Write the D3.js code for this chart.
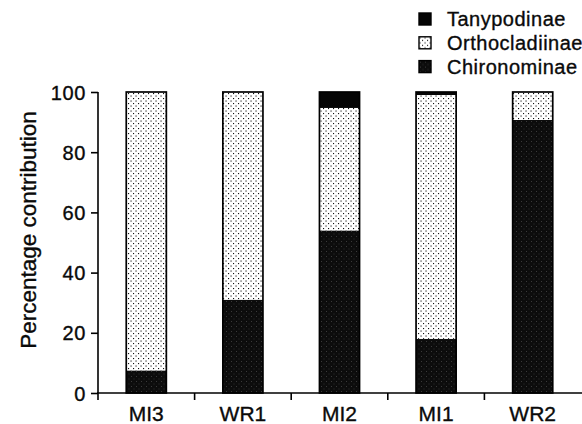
<!DOCTYPE html>
<html>
<head>
<meta charset="utf-8">
<script src="https://cdn.jsdelivr.net/npm/d3@7"></script>
<style>
  body { margin: 0; background: #fff; }
  svg text { font-family: "Liberation Sans", Arial, sans-serif; fill: #0a0a0a; stroke: #0a0a0a; stroke-width: 0.35px; }
</style>
</head>
<body>
<svg id="chart" width="582" height="424"></svg>
<script>
// data (percent of each site's chironomid catch)
const sites = ['MI3', 'WR1', 'MI2', 'MI1', 'WR2'];
const chironominae = [7.5, 31, 54, 18, 90.7];
const orthocladiinae = [92.5, 69, 40.7, 81, 9.3];
const tanypodinae = [0, 0, 5.3, 1, 0];
const subfamilies = ['Chironominae', 'Orthocladiinae', 'Tanypodinae'];
const legendOrder = ['Tanypodinae', 'Orthocladiinae', 'Chironominae'];
const yTicks = [0, 20, 40, 60, 80, 100];

const rows = sites.map((s, i) => ({
    site: s,
    Chironominae: chironominae[i],
    Orthocladiinae: orthocladiinae[i],
    Tanypodinae: tanypodinae[i]
}));

const svg = d3.select('#chart');

// patterns
const defs = svg.append('defs');
const dots = defs.append('pattern')
    .attr('id', 'dots')
    .attr('patternUnits', 'userSpaceOnUse')
    .attr('width', 5)
    .attr('height', 5);
dots.append('rect').attr('width', 5).attr('height', 5).attr('fill', '#fff');
dots.append('rect').attr('x', 0.5).attr('y', 0.5).attr('width', 1.1).attr('height', 1.1).attr('fill', '#111');
dots.append('rect').attr('x', 3).attr('y', 3).attr('width', 1.1).attr('height', 1.1).attr('fill', '#111');

const dark = defs.append('pattern')
    .attr('id', 'dark')
    .attr('patternUnits', 'userSpaceOnUse')
    .attr('width', 5)
    .attr('height', 5);
dark.append('rect').attr('width', 5).attr('height', 5).attr('fill', '#0c0c0c');
dark.append('rect').attr('x', 1).attr('y', 1).attr('width', 1).attr('height', 1).attr('fill', '#3a3a3a');
dark.append('rect').attr('x', 3.5).attr('y', 3.5).attr('width', 1).attr('height', 1).attr('fill', '#2e2e2e');

const fills = {
    Chironominae: 'url(#dark)',
    Orthocladiinae: 'url(#dots)',
    Tanypodinae: '#050505'
};

const x = d3.scaleBand()
    .domain(sites)
    .range([98, 581])
    .paddingInner(0.585)
    .paddingOuter(0.2925);

const y = d3.scaleLinear()
    .domain([0, 100])
    .range([393, 92]);

const stack = d3.stack().keys(subfamilies);
const layers = stack(rows);

// bars
const layerG = svg.selectAll('.layer')
    .data(layers)
    .enter().append('g')
    .attr('class', 'layer')
    .attr('fill', d => fills[d.key]);

layerG.selectAll('rect')
    .data(d => d.filter(p => p[1] - p[0] > 0))
    .enter().append('rect')
    .attr('x', d => x(d.data.site))
    .attr('width', x.bandwidth())
    .attr('y', d => y(d[1]))
    .attr('height', d => y(d[0]) - y(d[1]));

// outline around each bar
svg.append('g').selectAll('rect')
    .data(rows)
    .enter().append('rect')
    .attr('x', d => x(d.site))
    .attr('width', x.bandwidth())
    .attr('y', y(100))
    .attr('height', y(0) - y(100))
    .attr('fill', 'none')
    .attr('stroke', '#000')
    .attr('stroke-width', 1.7);

// y axis
const yAxis = svg.append('g')
    .attr('transform', 'translate(98,0)')
    .call(d3.axisLeft(y).tickValues(yTicks).tickSize(7).tickPadding(5));
yAxis.select('.domain').attr('stroke', '#000').attr('stroke-width', 1.6).attr('d', 'M0,' + y(100) + 'V' + y(0));
yAxis.selectAll('.tick line').attr('stroke', '#000').attr('stroke-width', 1.6);
yAxis.selectAll('.tick text')
    .style('font-family', '"Liberation Sans", Arial, sans-serif')
    .style('font-size', '20px')
    .style('letter-spacing', '0.6px')
    .attr('fill', '#0a0a0a')
    .attr('dy', '0.35em');

// x axis: ticks sit between categories
const xAxisG = svg.append('g').attr('transform', `translate(0,${y(0)})`);
xAxisG.append('line')
    .attr('x1', 97).attr('x2', 582)
    .attr('stroke', '#000').attr('stroke-width', 1.6);
xAxisG.selectAll('.sep')
    .data(sites)
    .enter().append('line')
    .attr('x1', (d, i) => i === 0 ? x.range()[0] : x(d) - x.step() * x.paddingInner() / 2)
    .attr('x2', (d, i) => i === 0 ? x.range()[0] : x(d) - x.step() * x.paddingInner() / 2)
    .attr('y1', 0).attr('y2', 7)
    .attr('stroke', '#000').attr('stroke-width', 1.6);
xAxisG.selectAll('.lbl')
    .data(sites)
    .enter().append('text')
    .attr('x', d => x(d) + x.bandwidth() / 2)
    .attr('y', 28)
    .attr('text-anchor', 'middle')
    .style('font-size', '21px')
    .text(d => d);

// y label
svg.append('text')
    .attr('transform', 'translate(36,230) rotate(-90)')
    .attr('text-anchor', 'middle')
    .style('font-size', '22.5px')
    .text('Percentage contribution');

// legend
const legend = svg.append('g').attr('class', 'legend');
const item = legend.selectAll('.legend-item')
    .data(legendOrder)
    .enter().append('g')
    .attr('class', 'legend-item')
    .attr('transform', (d, i) => `translate(419, ${13 + i * 23.8})`);

item.append('rect')
    .attr('width', 12)
    .attr('height', 12)
    .attr('fill', d => fills[d])
    .attr('stroke', '#000')
    .attr('stroke-width', 1.4);

item.append('text')
    .attr('x', 28)
    .attr('y', 6)
    .attr('dy', '0.36em')
    .style('font-size', '20px')
    .style('letter-spacing', '0.5px')
    .text(d => d);
</script>
</body>
</html>
